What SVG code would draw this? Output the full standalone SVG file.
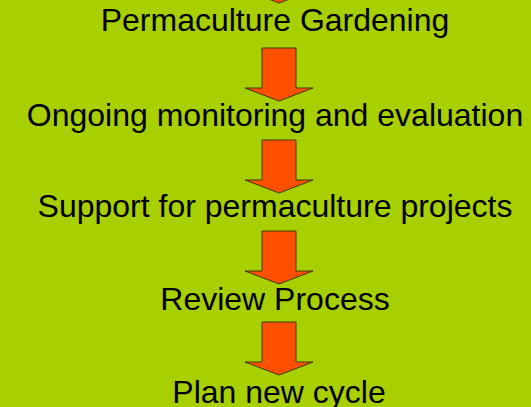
<svg xmlns="http://www.w3.org/2000/svg" width="531" height="407" viewBox="0 0 531 407">
<style>
.t{font-family:"Liberation Sans",Arial,sans-serif;font-size:32px;fill:#000;text-anchor:middle}
.a{fill:#FF5000;stroke:#3A3A00;stroke-width:1}
</style>
<defs>
<path id="arr" d="M262,0 H296 V40 H313 L279,53 L245,40 H262 Z"/>
</defs>
<rect width="531" height="407" fill="#A8D000"/>
<g id="connectors">
<use href="#arr" class="a" transform="translate(0,-50)"/>
<use href="#arr" class="a" transform="translate(0,48)"/>
<use href="#arr" class="a" transform="translate(0,140)"/>
<use href="#arr" class="a" transform="translate(0,231)"/>
<use href="#arr" class="a" transform="translate(0,322)"/>
</g>
<g id="n1"><text class="t" x="275" y="31">Permaculture Gardening</text></g>
<g id="n2"><text class="t" x="275" y="126">Ongoing monitoring and evaluation</text></g>
<g id="n3"><text class="t" x="275" y="217">Support for permaculture projects</text></g>
<g id="n4"><text class="t" x="275" y="310">Review Process</text></g>
<g id="n5"><text class="t" x="279" y="403">Plan new cycle</text></g>
</svg>
